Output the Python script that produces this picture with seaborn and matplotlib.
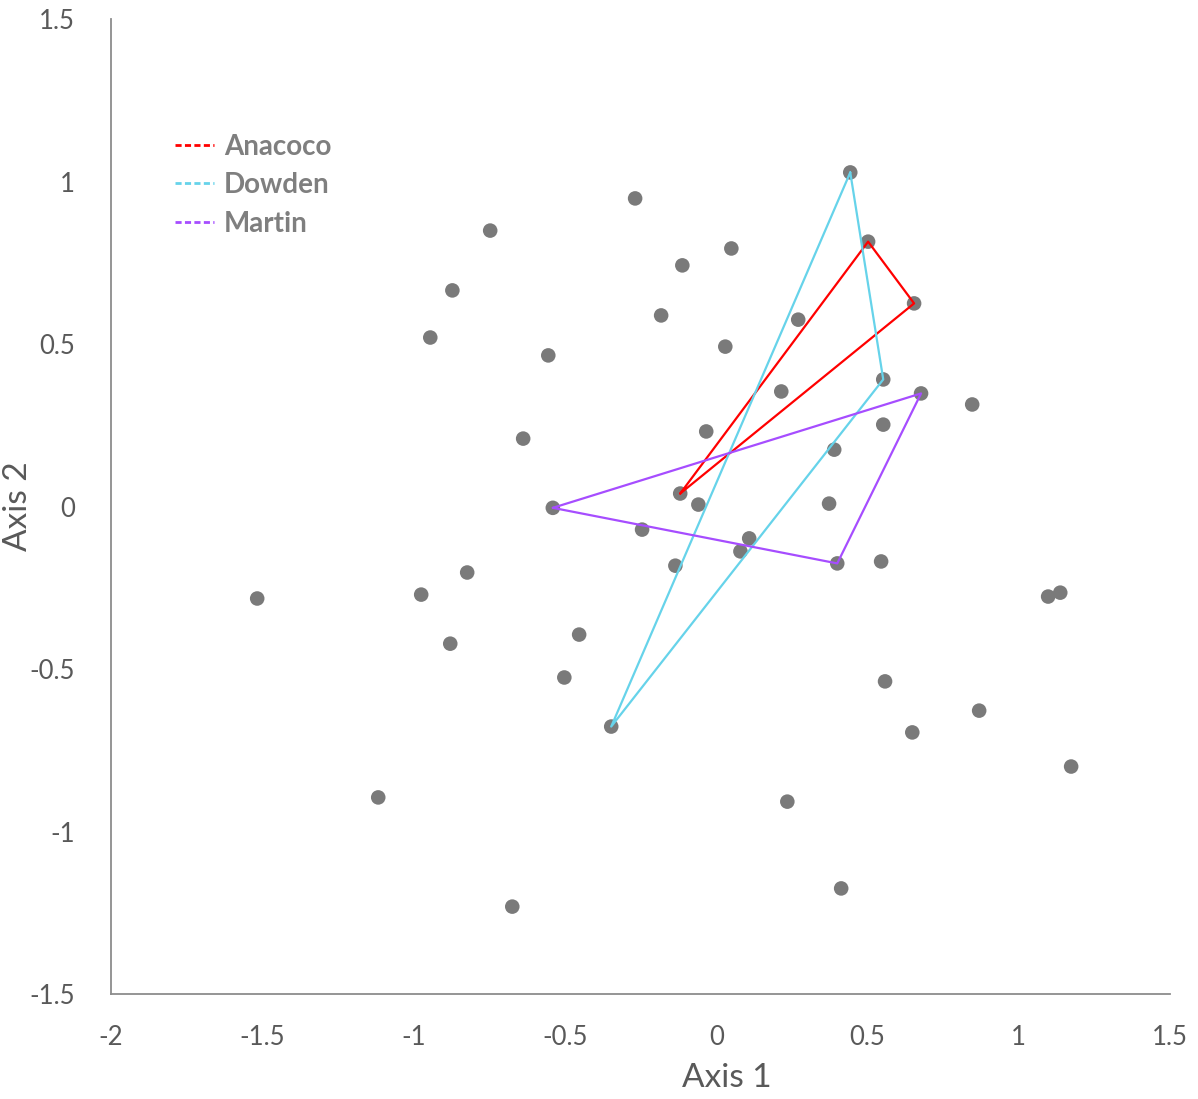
import seaborn as sns
import pandas as pd
import numpy as np
import matplotlib.pyplot as plt
from matplotlib.lines import Line2D

# ordination scores
axis1 = [-1.517, -1.117, -0.674, -0.747, -0.872, -0.945, -0.975, -0.823, -0.879, -0.555,
         -0.638, -0.453, -0.502, -0.540, -0.268, -0.112, -0.182, 0.050, 0.030, -0.245,
         -0.119, -0.059, -0.033, -0.135, 0.080, 0.109, -0.347, 0.215, 0.271, 0.443,
         0.502, 0.654, 0.552, 0.677, 0.552, 0.390, 0.373, 0.400, 0.545, 0.846,
         0.558, 0.869, 0.648, 1.097, 1.137, 1.173, 0.235, 0.413]
axis2 = [-0.283, -0.895, -1.231, 0.849, 0.665, 0.520, -0.271, -0.203, -0.422, 0.465,
         0.209, -0.394, -0.526, -0.004, 0.948, 0.742, 0.588, 0.794, 0.492, -0.071,
         0.040, 0.006, 0.231, -0.182, -0.138, -0.098, -0.677, 0.354, 0.575, 1.028,
         0.815, 0.625, 0.391, 0.348, 0.252, 0.175, 0.009, -0.175, -0.169, 0.314,
         -0.538, -0.628, -0.695, -0.277, -0.265, -0.800, -0.908, -1.175]

# site polygons (closed)
anacoco_x = [-0.119, 0.502, 0.654, -0.119]
anacoco_y = [0.040, 0.815, 0.625, 0.040]
dowden_x = [0.443, 0.552, -0.347, 0.443]
dowden_y = [1.028, 0.391, -0.677, 1.028]
martin_x = [-0.540, 0.677, 0.400, -0.540]
martin_y = [-0.004, 0.348, -0.175, -0.004]

sites = ['Anacoco', 'Dowden', 'Martin']
site_colors = ['#ff0000', '#66d3ea', '#a64dff']

sns.set_style('white')
plt.rcParams['font.family'] = ['Lato', 'DejaVu Sans']

fig = plt.figure(figsize=(11.98, 10.99), dpi=100)
ax = fig.add_axes([0.0927, 0.0955, 0.884, 0.8872])

sns.scatterplot(x=axis1, y=axis2, color='#7a7a7a', s=110, edgecolor='none', ax=ax, zorder=2)

polys = [(anacoco_x, anacoco_y), (dowden_x, dowden_y), (martin_x, martin_y)]
for (px, py), c in zip(polys, site_colors):
    sns.lineplot(x=px, y=py, sort=False, estimator=None, color=c, linewidth=1.6, ax=ax, zorder=3)

ax.set_xlim(-2, 1.5)
ax.set_ylim(-1.5, 1.5)
ax.set_xticks(np.arange(-2, 1.51, 0.5))
ax.set_yticks(np.arange(-1.5, 1.51, 0.5))
ax.set_xticklabels(['-2', '-1.5', '-1', '-0.5', '0', '0.5', '1', '1.5'])
ax.set_yticklabels(['-1.5', '-1', '-0.5', '0', '0.5', '1', '1.5'])
ax.tick_params(axis='x', length=0, pad=22, labelsize=18.5, labelcolor='#595959')
ax.tick_params(axis='y', length=0, pad=26, labelsize=18.5, labelcolor='#595959')

sns.despine(ax=ax)
for sp in ['left', 'bottom']:
    ax.spines[sp].set_color('#8c8c8c')
    ax.spines[sp].set_linewidth(1.3)

ax.set_xlabel('Axis 1', fontsize=24, color='#595959')
ax.set_ylabel('Axis 2', fontsize=24, color='#595959')
ax.xaxis.set_label_coords(0.581, -0.071)
ax.yaxis.set_label_coords(-0.074, 0.5)

handles = [Line2D([0], [0], color=c, linestyle=(0, (2.2, 1.2)), linewidth=2) for c in site_colors]
leg = ax.legend(handles, sites, loc='upper left', bbox_to_anchor=(0.037, 0.908),
                frameon=False, handlelength=1.4, handletextpad=0.35, labelspacing=0.45,
                prop={'size': 20, 'weight': 'bold'}, labelcolor='#7f7f7f')

plt.savefig('out.png', dpi=100)
